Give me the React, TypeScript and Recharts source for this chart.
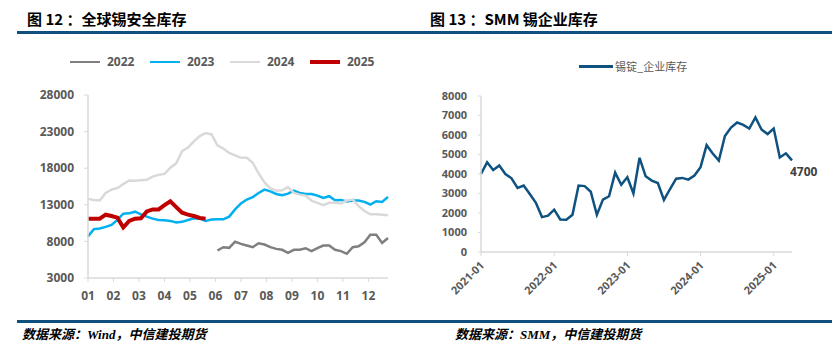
import { LineChart, Line, XAxis, YAxis } from "recharts";

// 图12：全球锡安全库存（周度，按年份对比）
const monthLabels = ["01", "02", "03", "04", "05", "06", "07", "08", "09", "10", "11", "12"];
const weeksPerYear = 52;
const monthTicks = monthLabels.map((_, i) => (i * weeksPerYear) / 12);
const globalTicks = [3000, 8000, 13000, 18000, 23000, 28000];

// 2022 only starts around the 23rd week
const inv2022Start = 22;
const inv2022 = [
  6760, 7210, 7120, 7970, 7660, 7430, 7210, 7750, 7570, 7210, 6980, 6850, 6440, 6850, 6850,
  7070, 6670, 7070, 7430, 7430, 6850, 6670, 6310, 7210, 7340, 7880, 8910, 8910, 7790, 8470,
];
const inv2023 = [
  8690, 9680, 9770, 9990, 10260, 10930, 11790, 11830, 12060, 11700, 11380, 11110, 10930,
  10890, 10800, 10580, 10670, 10930, 11160, 11110, 10800, 10980, 11020, 11020, 11380, 12370,
  13180, 13720, 14030, 14620, 15070, 14840, 14480, 14300, 14530, 14930, 14620, 14480, 14480,
  14260, 13940, 14170, 13630, 13670, 13450, 13580, 13580, 13400, 13040, 13490, 13400, 14080,
];
const inv2024 = [
  13810, 13670, 13580, 14620, 15070, 15290, 15830, 16320, 16280, 16370, 16410, 16860, 17090,
  17220, 18070, 18660, 20320, 20810, 21670, 22380, 22790, 22610, 21130, 20680, 20090, 19740,
  19420, 19420, 18750, 17310, 16050, 15250, 14930, 14980, 15420, 14620, 14390, 14260, 13580,
  13270, 12960, 13270, 13270, 13180, 13580, 13720, 12820, 12150, 11700, 11700, 11650, 11560,
];
const inv2025 = [
  11110, 11110, 11110, 11650, 11470, 11250, 9900, 10800, 11110, 11160, 12100, 12370, 12370,
  12960, 13490, 12690, 11920, 11650, 11470, 11200, 11110,
];

const globalData = inv2024.map((_, w) => ({
  w,
  y2022: w >= inv2022Start ? inv2022[w - inv2022Start] ?? null : null,
  y2023: inv2023[w] ?? null,
  y2024: inv2024[w] ?? null,
  y2025: inv2025[w] ?? null,
}));

const globalSeries = [
  { key: "y2022", name: "2022", color: "#7f7f7f", width: 2.5 },
  { key: "y2023", name: "2023", color: "#00b0f0", width: 2.5 },
  { key: "y2024", name: "2024", color: "#d9d9d9", width: 2.5 },
  { key: "y2025", name: "2025", color: "#c00000", width: 4 },
];

// 图13：SMM 锡锭企业库存（月度 2021-01 ~ 2025-04）
const smmStock = [
  4000, 4600, 4200, 4430, 4000, 3780, 3290, 3410, 2970, 2520, 1790, 1860,
  2170, 1670, 1650, 1910, 3410, 3380, 3090, 1910, 2690, 2860, 4070, 3450,
  3830, 3000, 4830, 3880, 3660, 3540, 2670, 3230, 3760, 3800, 3710, 3920,
  4350, 5480, 5050, 4690, 5950, 6380, 6640, 6520, 6330, 6900, 6280, 6050,
  6330, 4850, 5060, 4700,
];
const smmMonths = smmStock.map(
  (_, i) => `${2021 + Math.floor(i / 12)}-${String((i % 12) + 1).padStart(2, "0")}`
);
const smmTicks = [0, 1000, 2000, 3000, 4000, 5000, 6000, 7000, 8000];
const smmData = smmMonths.map((m, i) => ({ m, v: smmStock[i] }));

const numFont = "'Open Sans', 'Noto Sans CJK SC', sans-serif";
const cjkFont = "'Noto Sans CJK SC', 'Open Sans', sans-serif";
const axisGray = "#d9d9d9";
const labelGray = "#595959";
const ruleBlue = "#0e4f7d";
const smmBlue = "#0f5280";

const tickStyle = { fontSize: 12, fontWeight: 700, fill: labelGray, fontFamily: numFont };

function YearTick({ x, y, payload }: any) {
  return (
    <g transform={`translate(${x + 4},${y + 8})`}>
      <text
        x={0}
        y={0}
        textAnchor="end"
        transform="rotate(-45)"
        fontSize={11}
        fontWeight={700}
        fill={labelGray}
        fontFamily={numFont}
      >
        {payload.value}
      </text>
    </g>
  );
}

function LastLabel({ x, y, index }: any) {
  if (index !== smmStock.length - 1) return null;
  return (
    <text x={x - 2} y={y + 16} fontSize={12} fontWeight={700} fill="#404040" fontFamily={numFont}>
      {smmStock[index]}
    </text>
  );
}

export default function App() {
  return (
    <div
      style={{
        position: "absolute",
        left: 0,
        top: 0,
        width: 839,
        height: 359,
        background: "#fff",
        overflow: "hidden",
        fontFamily: cjkFont,
      }}
    >
      {/* titles */}
      <div style={{ position: "absolute", left: 27, top: 8, fontSize: 15, fontWeight: 700, lineHeight: "22px", color: "#000" }}>
        图 12 ：全球锡安全库存
      </div>
      <div style={{ position: "absolute", left: 430, top: 8, fontSize: 15, fontWeight: 700, lineHeight: "22px", color: "#000" }}>
        图 13 ：SMM 锡企业库存
      </div>
      <div style={{ position: "absolute", left: 17, top: 31, width: 815, height: 3, background: ruleBlue }} />

      {/* left legend */}
      {globalSeries.map((s, i) => (
        <div key={s.key}>
          <div
            style={{
              position: "absolute",
              left: 70 + i * 80,
              top: 62 - s.width / 2,
              width: 30,
              height: s.width,
              background: s.color,
            }}
          />
          <div
            style={{
              position: "absolute",
              left: 107 + i * 80,
              top: 54,
              fontSize: 12,
              fontWeight: 700,
              lineHeight: "16px",
              color: labelGray,
              fontFamily: numFont,
            }}
          >
            {s.name}
          </div>
        </div>
      ))}

      <div style={{ position: "absolute", left: 0, top: 80 }}>
        <LineChart width={408} height={228} data={globalData} margin={{ top: 15, right: 20, bottom: 0, left: 38 }}>
          <XAxis
            dataKey="w"
            type="number"
            domain={[0, weeksPerYear - 1]}
            ticks={monthTicks}
            tickFormatter={(v: number) => monthLabels[Math.round((v * 12) / weeksPerYear)]}
            interval={0}
            height={30}
            tick={tickStyle}
            tickSize={4}
            tickMargin={9}
            axisLine={{ stroke: axisGray, strokeWidth: 1.5 }}
            tickLine={{ stroke: axisGray }}
          />
          <YAxis
            domain={[3000, 28000]}
            ticks={globalTicks}
            interval={0}
            width={50}
            tick={tickStyle}
            tickSize={4}
            tickMargin={10}
            axisLine={{ stroke: axisGray, strokeWidth: 1.5 }}
            tickLine={{ stroke: axisGray }}
          />
          {globalSeries.map((s) => (
            <Line
              key={s.key}
              dataKey={s.key}
              name={s.name}
              type="linear"
              stroke={s.color}
              strokeWidth={s.width}
              dot={false}
              activeDot={false}
              connectNulls={false}
              isAnimationActive={false}
            />
          ))}
        </LineChart>
      </div>

      {/* right legend */}
      <div style={{ position: "absolute", left: 579, top: 65, width: 34, height: 3, background: smmBlue }} />
      <div style={{ position: "absolute", left: 615, top: 58, fontSize: 11, lineHeight: "16px", color: labelGray }}>
        锡锭_企业库存
      </div>

      <div style={{ position: "absolute", left: 420, top: 80 }}>
        <LineChart width={402} height={222} data={smmData} margin={{ top: 16, right: 30, bottom: 0, left: 11 }}>
          <XAxis
            dataKey="m"
            interval={11}
            height={50}
            tick={<YearTick />}
            tickSize={4}
            tickMargin={2}
            axisLine={{ stroke: axisGray, strokeWidth: 1.5 }}
            tickLine={{ stroke: axisGray }}
          />
          <YAxis
            domain={[0, 8000]}
            ticks={smmTicks}
            interval={0}
            width={50}
            tick={{ ...tickStyle, fontSize: 11 }}
            tickSize={3}
            tickMargin={11}
            axisLine={{ stroke: axisGray, strokeWidth: 1.5 }}
            tickLine={{ stroke: axisGray }}
          />
          <Line
            dataKey="v"
            type="linear"
            stroke={smmBlue}
            strokeWidth={2.5}
            dot={false}
            activeDot={false}
            label={<LastLabel />}
            isAnimationActive={false}
          />
        </LineChart>
      </div>

      {/* footer */}
      <div style={{ position: "absolute", left: 17, top: 320, width: 815, height: 3, background: ruleBlue }} />
      <div
        style={{
          position: "absolute",
          left: 22,
          top: 326,
          fontSize: 13,
          fontWeight: 700,
          fontStyle: "italic",
          lineHeight: "18px",
          color: "#000",
          fontFamily: "'Liberation Serif', 'Noto Sans CJK SC', serif",
        }}
      >
        数据来源：Wind，中信建投期货
      </div>
      <div
        style={{
          position: "absolute",
          left: 455,
          top: 326,
          fontSize: 13,
          fontWeight: 700,
          fontStyle: "italic",
          lineHeight: "18px",
          color: "#000",
          fontFamily: "'Liberation Serif', 'Noto Sans CJK SC', serif",
        }}
      >
        数据来源：SMM，中信建投期货
      </div>
    </div>
  );
}
